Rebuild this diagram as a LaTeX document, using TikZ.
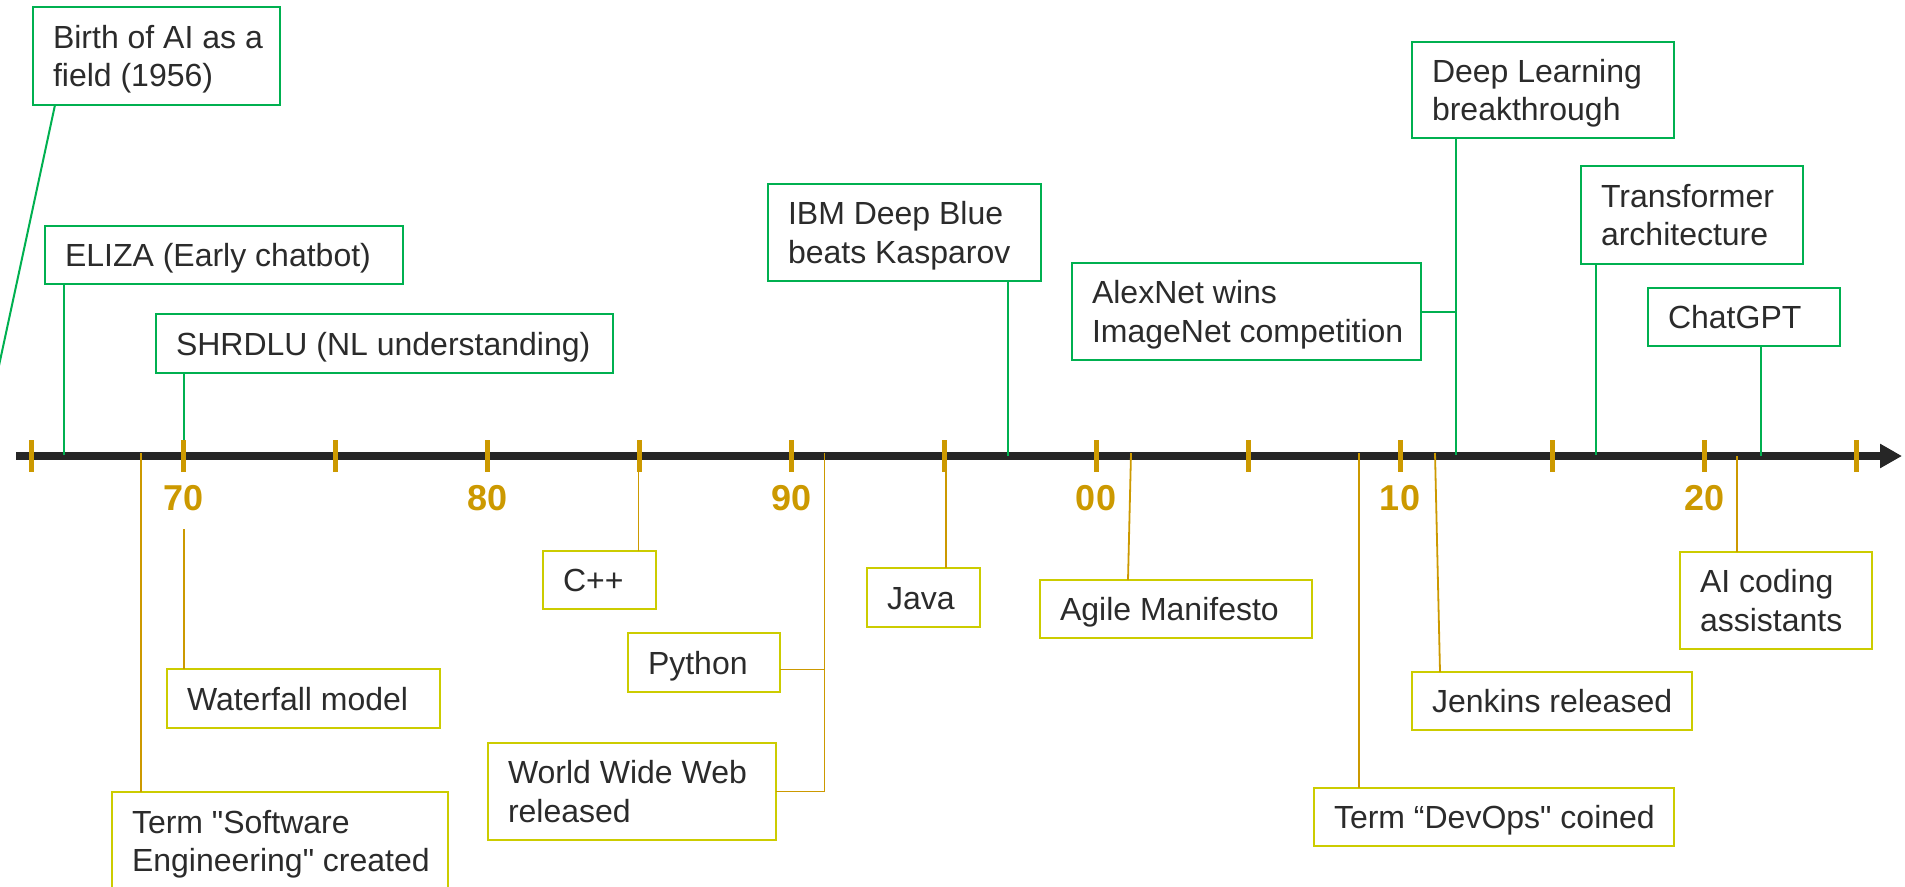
\documentclass[tikz,border=0pt]{standalone}
\usepackage{fontspec}
\setmainfont{Liberation Sans}[Ligatures=TeXOff]
\usetikzlibrary{arrows.meta}
\definecolor{aigreen}{HTML}{00B050}
\definecolor{segold}{HTML}{CC9900}
\definecolor{seyellow}{HTML}{CCCC00}
\definecolor{axisdark}{HTML}{262626}
\definecolor{txtdark}{HTML}{2B2B2B}
\newcommand\evone[2]{\hbox to #1pt{#2\hss}}
\newcommand\evtwo[3]{\vtop{\hbox to #1pt{#2\hss}\hbox to #1pt{#3\hss}}}
\tikzset{
  evbox/.style={line width=2.2pt, inner xsep=20pt, inner ysep=0pt, outer sep=0pt,
    anchor=north west, text=txtdark, font=\fontsize{32}{38.4}\selectfont, text height=23pt},
  onel/.style={text depth=0pt},
  twol/.style={text depth=38.4pt},
  aibox/.style={evbox, draw=aigreen},
  sebox/.style={evbox, draw=seyellow},
  ailink/.style={draw=aigreen, line width=2pt},
  selink/.style={draw=segold, line width=1.8pt},
  tickmark/.style={draw=segold, line width=5pt},
  yearlab/.style={text=segold, font=\fontsize{36}{40}\selectfont\bfseries, anchor=base, inner sep=0pt}
}
\begin{document}
\begin{tikzpicture}[x=1pt,y=-1pt]
\useasboundingbox (0,0) rectangle (1905,886);
\clip (0,0) rectangle (1905,886);

% axis
\coordinate (axstart) at (16,456);
\coordinate (axend) at (1902,456);
\draw[axisdark, line width=8pt, -{Triangle[length=22pt,width=23pt]}] (axstart) -- (axend);

% AI boxes (top)
\node[aibox, twol, minimum height=98pt] (birth) at (33,7) {\evtwo{207}{Birth of AI as a}{field (1956)}};
\node[aibox, onel, minimum height=58pt] (eliza) at (45,226) {\evone{318}{ELIZA (Early chatbot)}};
\node[aibox, onel, minimum height=59pt] (shrdlu) at (156,314) {\evone{417}{SHRDLU (NL understanding)}};
\node[aibox, twol, minimum height=97pt] (ibm) at (768,184) {\evtwo{233}{IBM Deep Blue}{beats Kasparov}};
\node[aibox, twol, minimum height=97pt] (alexnet) at (1072,263) {\evtwo{309}{AlexNet wins}{ImageNet competition}};
\node[aibox, twol, minimum height=96pt] (deep) at (1412,42) {\evtwo{222}{Deep Learning}{breakthrough}};
\node[aibox, twol, minimum height=98pt] (transf) at (1581,166) {\evtwo{182}{Transformer}{architecture}};
\node[aibox, onel, minimum height=58pt] (chatgpt) at (1648,288) {\evone{152}{ChatGPT}};

% SE boxes (bottom)
\node[sebox, twol, minimum height=98pt] (software) at (112,792) {\evtwo{296}{Term "Software}{Engineering" created}};
\node[sebox, onel, minimum height=59pt] (waterfall) at (167,669) {\evone{233}{Waterfall model}};
\node[sebox, onel, minimum height=58pt] (cpp) at (543,551) {\evone{73}{C++}};
\node[sebox, onel, minimum height=59pt] (python) at (628,633) {\evone{112}{Python}};
\node[sebox, twol, minimum height=97pt] (www) at (488,743) {\evtwo{248}{World Wide Web}{released}};
\node[sebox, onel, minimum height=59pt] (java) at (867,568) {\evone{73}{Java}};
\node[sebox, onel, minimum height=58pt] (agile) at (1040,580) {\evone{232}{Agile Manifesto}};
\node[sebox, onel, minimum height=58pt] (devops) at (1314,788) {\evone{320}{Term “DevOps" coined}};
\node[sebox, onel, minimum height=58pt] (jenkins) at (1412,672) {\evone{240}{Jenkins released}};
\node[sebox, twol, minimum height=97pt] (aicode) at (1680,552) {\evtwo{152}{AI coding}{assistants}};

% axis anchor points
\coordinate (birthend) at (-12.7,420);
\coordinate (a66) at (63.7,455);
\coordinate (a70) at (183.7,455);
\coordinate (a97) at (1007.6,456);
\coordinate (a12) at (1456,455);
\coordinate (a17) at (1596,455);
\coordinate (a22) at (1761,456);
\coordinate (s68) at (140.6,453);
\coordinate (wf) at (184,529);
\coordinate (s85) at (638.4,453);
\coordinate (s91) at (824.5,453);
\coordinate (s95) at (946,453);
\coordinate (s01) at (1131,453);
\coordinate (s09) at (1359.3,453);
\coordinate (s11) at (1435,453);
\coordinate (s21) at (1736.7,456);

% AI connectors
\draw[ailink] ([xshift=22pt]birth.south west) -- (birthend);
\draw[ailink] (eliza.south -| a66) -- (a66);
\draw[ailink] (shrdlu.south -| a70) -- (a70);
\draw[ailink] (ibm.south -| a97) -- (a97);
\draw[ailink] (deep.south -| a12) -- (a12);
\draw[ailink] (alexnet.east) -- (alexnet.east -| a12);
\draw[ailink] (transf.south -| a17) -- (a17);
\draw[ailink] (chatgpt.south -| a22) -- (a22);

% SE connectors
\draw[selink] (s68) -- (s68 |- software.north);
\draw[selink] (wf) -- (wf |- waterfall.north);
\draw[selink] (s85) -- (s85 |- cpp.north);
\draw[selink] (s91) -- (s91 |- www.east) -- (www.east);
\draw[selink] ([yshift=-7pt]python.east) -- ([yshift=-7pt]python.east -| s91);
\draw[selink] (s95) -- (s95 |- java.north);
\draw[selink] (s01) -- ([xshift=88pt]agile.north west);
\draw[selink] (s09) -- (s09 |- devops.north);
\draw[selink] (s11) -- ([xshift=28pt]jenkins.north west);
\draw[selink] (s21) -- (s21 |- aicode.north);

% ticks
\foreach \k in {0,...,12} \draw[tickmark] (31.7+152.05*\k,440) -- (31.7+152.05*\k,472);

% year labels
\node[yearlab] (y70) at (183.7,510) {70};
\node[yearlab] (y80) at (487.8,510) {80};
\node[yearlab] (y90) at (791.9,510) {90};
\node[yearlab] (y00) at (1096,510) {00};
\node[yearlab] (y10) at (1400,510) {10};
\node[yearlab] (y20) at (1704,510) {20};
\end{tikzpicture}
\end{document}
